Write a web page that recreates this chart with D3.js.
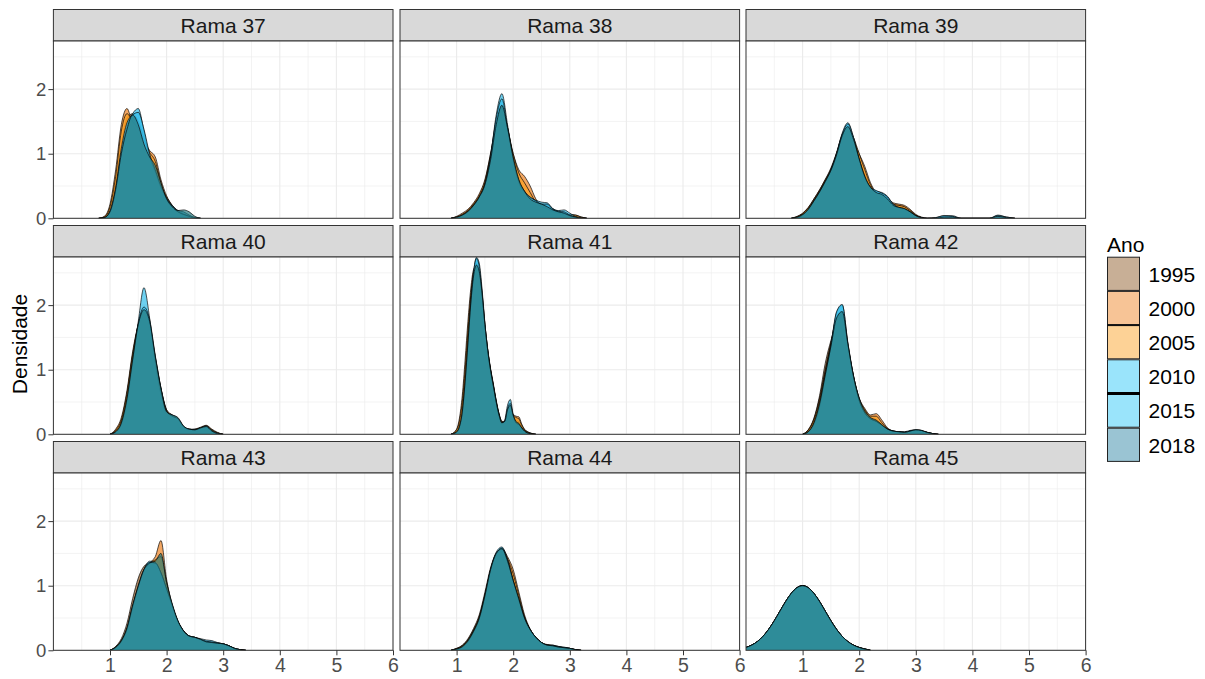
<!DOCTYPE html>
<html><head><meta charset="utf-8">
<script src="https://cdn.jsdelivr.net/npm/d3@7"></script>
<style>body{margin:0;background:#fff} text{font-family:"Liberation Sans",Arial,sans-serif}</style>
</head><body><svg id="c" width="1205" height="679"></svg>
<script>
// ---------- data ----------
const years = ["1995","2000","2005","2010","2015","2018"];
const panelNames = ["Rama 37","Rama 38","Rama 39","Rama 40","Rama 41","Rama 42","Rama 43","Rama 44","Rama 45"];
const xTicks = [1,2,3,4,5,6];
const yTicks = [0,1,2];
const xMinor = [0.5,1.5,2.5,3.5,4.5,5.5];
const yMinor = [0.5,1.5,2.5];

// density grids (x values) and densities per year (1995..2018)
const grid37 = [0.8,0.9,1.0,1.1,1.2,1.3,1.4,1.5,1.6,1.7,1.8,1.9,2.0,2.1,2.2,2.3,2.4,2.5,2.6];
const rama37 = [
  [0,0.02,0.15,0.55,1.15,1.55,1.62,1.5,1.25,0.95,0.7,0.5,0.33,0.2,0.12,0.07,0.04,0.01,0],
  [0,0.03,0.22,0.75,1.45,1.70,1.45,1.3,1.2,1.05,0.95,0.6,0.35,0.2,0.1,0.06,0.03,0.01,0],
  [0,0.02,0.18,0.65,1.35,1.62,1.5,1.38,1.2,1.02,0.88,0.55,0.3,0.17,0.1,0.05,0.02,0,0],
  [0,0.01,0.1,0.42,1.0,1.42,1.62,1.70,1.35,0.95,0.72,0.47,0.3,0.2,0.12,0.1,0.05,0.01,0],
  [0,0.01,0.12,0.48,1.08,1.48,1.6,1.64,1.38,1.0,0.75,0.5,0.32,0.18,0.1,0.06,0.03,0,0],
  [0,0.01,0.1,0.45,1.0,1.38,1.6,1.45,1.15,0.95,0.82,0.55,0.3,0.18,0.12,0.13,0.1,0.03,0]
];
const grid38 = [0.9,1.0,1.1,1.2,1.3,1.4,1.5,1.6,1.7,1.8,1.9,2.0,2.1,2.2,2.3,2.4,2.5,2.6,2.7,2.8,2.9,3.0,3.1,3.2,3.3];
const rama38 = [
  [0,0.02,0.06,0.12,0.22,0.36,0.58,1.0,1.5,1.7,1.4,0.95,0.6,0.42,0.33,0.27,0.22,0.2,0.15,0.1,0.08,0.05,0.03,0.01,0],
  [0,0.03,0.08,0.14,0.24,0.38,0.6,1.0,1.45,1.7,1.35,1.0,0.75,0.65,0.5,0.3,0.2,0.15,0.12,0.08,0.06,0.05,0.05,0.02,0],
  [0,0.02,0.06,0.12,0.22,0.34,0.55,0.95,1.45,1.72,1.4,1.0,0.7,0.55,0.4,0.25,0.18,0.15,0.1,0.08,0.06,0.06,0.05,0.02,0],
  [0,0.01,0.04,0.1,0.2,0.32,0.52,0.95,1.6,1.93,1.45,0.9,0.55,0.4,0.32,0.28,0.25,0.24,0.15,0.12,0.13,0.08,0.03,0.01,0],
  [0,0.01,0.05,0.1,0.2,0.33,0.53,0.95,1.55,1.85,1.4,0.92,0.58,0.42,0.33,0.27,0.22,0.22,0.14,0.11,0.1,0.05,0.02,0,0],
  [0,0.02,0.05,0.11,0.2,0.33,0.52,0.9,1.45,1.75,1.4,0.95,0.6,0.42,0.3,0.25,0.22,0.18,0.13,0.1,0.08,0.04,0.02,0,0]
];
const grid39 = [0.8,0.9,1.0,1.1,1.2,1.3,1.4,1.5,1.6,1.7,1.8,1.9,2.0,2.1,2.2,2.3,2.4,2.5,2.6,2.7,2.8,2.9,3.0,3.1,3.2,3.35,3.5,3.65,3.8,4.3,4.45,4.6,4.75];
const rama39 = [
  [0,0.02,0.07,0.16,0.3,0.44,0.6,0.78,1.02,1.3,1.4,1.2,0.92,0.68,0.5,0.4,0.35,0.3,0.22,0.2,0.18,0.12,0.05,0.01,0,0,0,0,0,0,0,0,0],
  [0,0.03,0.08,0.17,0.3,0.44,0.6,0.76,1.0,1.28,1.38,1.2,1.0,0.8,0.55,0.4,0.35,0.3,0.24,0.22,0.2,0.14,0.06,0.02,0,0,0,0,0,0,0,0,0],
  [0,0.02,0.07,0.16,0.28,0.42,0.58,0.74,0.98,1.25,1.4,1.25,1.0,0.75,0.52,0.4,0.36,0.3,0.22,0.2,0.18,0.12,0.05,0.01,0,0,0,0,0,0,0,0,0],
  [0,0.01,0.05,0.13,0.26,0.4,0.56,0.74,1.0,1.32,1.48,1.25,0.9,0.62,0.48,0.42,0.4,0.34,0.22,0.16,0.14,0.1,0.04,0.01,0,0.01,0.04,0.04,0,0,0.05,0.02,0],
  [0,0.01,0.05,0.14,0.27,0.41,0.57,0.75,1.0,1.3,1.46,1.25,0.92,0.64,0.48,0.43,0.39,0.33,0.22,0.17,0.15,0.1,0.04,0.01,0,0.01,0.04,0.03,0,0,0.04,0.02,0],
  [0,0.02,0.06,0.14,0.27,0.41,0.57,0.74,0.98,1.28,1.42,1.22,0.92,0.65,0.48,0.4,0.37,0.3,0.2,0.17,0.15,0.1,0.04,0.01,0,0,0.02,0.02,0,0,0.03,0.01,0]
];
const grid40 = [1.0,1.1,1.2,1.3,1.4,1.5,1.6,1.7,1.8,1.9,2.0,2.1,2.2,2.3,2.4,2.5,2.6,2.7,2.8,2.9,3.0];
const rama40 = [
  [0,0.06,0.22,0.62,1.22,1.68,1.9,1.7,1.2,0.72,0.38,0.28,0.24,0.12,0.08,0.08,0.1,0.12,0.06,0.02,0],
  [0,0.08,0.26,0.68,1.28,1.7,1.88,1.65,1.15,0.7,0.38,0.3,0.22,0.1,0.07,0.08,0.11,0.14,0.08,0.03,0],
  [0,0.06,0.22,0.64,1.24,1.7,1.92,1.7,1.18,0.7,0.36,0.28,0.24,0.11,0.07,0.07,0.1,0.13,0.07,0.02,0],
  [0,0.03,0.15,0.5,1.1,1.75,2.27,1.8,1.1,0.62,0.33,0.3,0.25,0.12,0.08,0.07,0.09,0.12,0.05,0.01,0],
  [0,0.04,0.17,0.55,1.15,1.72,1.97,1.78,1.22,0.72,0.36,0.28,0.24,0.12,0.08,0.07,0.1,0.13,0.06,0.02,0],
  [0,0.04,0.18,0.56,1.16,1.7,1.93,1.75,1.2,0.7,0.35,0.3,0.26,0.13,0.08,0.07,0.1,0.12,0.05,0.01,0]
];
const grid41 = [0.9,1.0,1.05,1.1,1.15,1.2,1.25,1.3,1.35,1.4,1.45,1.5,1.55,1.6,1.65,1.7,1.75,1.8,1.85,1.9,1.95,2.0,2.05,2.1,2.15,2.2,2.3,2.4];
const rama41 = [
  [0,0.06,0.18,0.45,0.95,1.55,2.1,2.45,2.6,2.5,2.15,1.7,1.32,1.02,0.78,0.52,0.32,0.2,0.2,0.3,0.35,0.28,0.22,0.2,0.12,0.07,0.02,0],
  [0,0.08,0.25,0.6,1.15,1.75,2.25,2.55,2.6,2.4,2.0,1.6,1.25,1.0,0.76,0.52,0.32,0.2,0.18,0.25,0.3,0.3,0.28,0.27,0.16,0.08,0.02,0],
  [0,0.07,0.2,0.5,1.0,1.6,2.15,2.5,2.65,2.5,2.1,1.65,1.3,1.0,0.75,0.5,0.3,0.18,0.18,0.3,0.35,0.3,0.26,0.24,0.14,0.07,0.02,0],
  [0,0.03,0.1,0.3,0.75,1.35,2.0,2.5,2.74,2.65,2.25,1.72,1.3,0.98,0.72,0.48,0.28,0.16,0.22,0.45,0.54,0.3,0.18,0.15,0.1,0.05,0.01,0],
  [0,0.03,0.12,0.34,0.8,1.4,2.05,2.52,2.72,2.6,2.2,1.7,1.3,0.98,0.74,0.5,0.3,0.18,0.2,0.4,0.48,0.28,0.18,0.15,0.1,0.05,0.01,0],
  [0,0.04,0.12,0.35,0.82,1.42,2.02,2.45,2.62,2.52,2.18,1.7,1.3,1.0,0.75,0.5,0.3,0.18,0.2,0.38,0.45,0.3,0.2,0.17,0.1,0.05,0.01,0]
];
const grid42 = [1.0,1.1,1.2,1.3,1.4,1.5,1.6,1.7,1.8,1.9,2.0,2.1,2.2,2.3,2.4,2.5,2.6,2.7,2.8,2.9,3.0,3.1,3.2,3.3,3.4];
const rama42 = [
  [0,0.07,0.25,0.6,1.1,1.45,1.7,1.75,1.35,0.9,0.55,0.35,0.25,0.22,0.15,0.08,0.05,0.04,0.03,0.05,0.06,0.05,0.03,0.01,0],
  [0,0.07,0.24,0.56,1.0,1.42,1.8,1.85,1.35,0.88,0.56,0.4,0.3,0.32,0.22,0.1,0.05,0.03,0.03,0.04,0.06,0.05,0.03,0.01,0],
  [0,0.06,0.22,0.52,0.97,1.4,1.82,1.9,1.38,0.9,0.55,0.38,0.28,0.28,0.18,0.09,0.05,0.04,0.03,0.05,0.06,0.05,0.03,0.01,0],
  [0,0.03,0.15,0.42,0.88,1.35,1.88,2.0,1.42,0.9,0.53,0.33,0.24,0.2,0.14,0.08,0.05,0.04,0.04,0.06,0.07,0.06,0.03,0.01,0],
  [0,0.04,0.17,0.46,0.92,1.38,1.9,2.01,1.4,0.88,0.52,0.33,0.24,0.2,0.14,0.08,0.05,0.04,0.03,0.05,0.07,0.06,0.03,0.01,0],
  [0,0.04,0.18,0.48,0.92,1.36,1.8,1.9,1.4,0.9,0.56,0.36,0.26,0.22,0.15,0.08,0.05,0.04,0.03,0.05,0.07,0.06,0.03,0.01,0]
];
const grid43 = [1.0,1.1,1.2,1.3,1.4,1.5,1.6,1.7,1.8,1.9,2.0,2.1,2.2,2.3,2.4,2.5,2.6,2.7,2.8,2.9,3.0,3.1,3.2,3.3,3.4];
const rama43 = [
  [0,0.06,0.18,0.42,0.8,1.12,1.3,1.35,1.3,1.15,0.92,0.68,0.45,0.3,0.22,0.2,0.17,0.13,0.12,0.11,0.1,0.07,0.03,0.01,0],
  [0,0.05,0.14,0.32,0.65,0.95,1.2,1.35,1.45,1.7,1.1,0.7,0.45,0.3,0.22,0.2,0.16,0.13,0.12,0.11,0.1,0.07,0.03,0.01,0],
  [0,0.05,0.15,0.34,0.68,0.98,1.22,1.35,1.4,1.45,1.05,0.7,0.44,0.3,0.22,0.2,0.16,0.13,0.12,0.11,0.1,0.07,0.03,0.01,0],
  [0,0.04,0.13,0.32,0.66,0.98,1.25,1.38,1.36,1.2,0.95,0.68,0.45,0.3,0.22,0.2,0.18,0.16,0.15,0.12,0.1,0.07,0.03,0.01,0],
  [0,0.04,0.14,0.33,0.68,1.0,1.25,1.36,1.35,1.2,0.95,0.7,0.45,0.3,0.22,0.2,0.17,0.14,0.13,0.11,0.1,0.07,0.03,0.01,0],
  [0,0.05,0.15,0.35,0.7,1.0,1.25,1.35,1.38,1.5,1.05,0.72,0.46,0.3,0.22,0.2,0.17,0.13,0.12,0.11,0.1,0.07,0.03,0.01,0]
];
const grid44 = [0.9,1.0,1.1,1.2,1.3,1.4,1.5,1.6,1.7,1.8,1.9,2.0,2.1,2.2,2.3,2.4,2.5,2.6,2.7,2.8,2.9,3.0,3.1,3.2];
const rama44 = [
  [0,0.03,0.08,0.18,0.34,0.55,0.9,1.28,1.5,1.55,1.38,1.1,0.8,0.5,0.32,0.2,0.12,0.08,0.07,0.05,0.04,0.03,0.01,0],
  [0,0.03,0.07,0.16,0.31,0.5,0.84,1.2,1.45,1.58,1.45,1.25,0.9,0.55,0.33,0.2,0.12,0.09,0.08,0.06,0.04,0.03,0.01,0],
  [0,0.02,0.07,0.16,0.31,0.52,0.86,1.24,1.48,1.56,1.42,1.18,0.85,0.52,0.32,0.2,0.12,0.08,0.07,0.05,0.04,0.03,0.01,0],
  [0,0.01,0.05,0.13,0.28,0.48,0.82,1.24,1.52,1.6,1.4,1.08,0.78,0.5,0.32,0.2,0.12,0.08,0.08,0.06,0.05,0.03,0.01,0],
  [0,0.02,0.05,0.14,0.29,0.49,0.84,1.25,1.5,1.58,1.4,1.08,0.78,0.5,0.32,0.2,0.12,0.08,0.07,0.05,0.04,0.03,0.01,0],
  [0,0.02,0.06,0.15,0.3,0.5,0.85,1.25,1.5,1.57,1.38,1.08,0.8,0.5,0.32,0.2,0.12,0.08,0.07,0.05,0.04,0.03,0.01,0]
];
const grid45 = [0.0,0.1,0.2,0.3,0.4,0.5,0.6,0.7,0.8,0.9,1.0,1.1,1.2,1.3,1.4,1.5,1.6,1.7,1.8,1.9,2.0,2.1,2.2];
const curve45 = [0.044,0.08,0.135,0.216,0.325,0.458,0.607,0.755,0.882,0.969,1.0,0.969,0.882,0.755,0.607,0.458,0.325,0.216,0.135,0.08,0.044,0.02,0];
const rama45 = [curve45,curve45,curve45,curve45,curve45,curve45]; // all years coincide

const grids = [grid37,grid38,grid39,grid40,grid41,grid42,grid43,grid44,grid45];
const densities = [rama37,rama38,rama39,rama40,rama41,rama42,rama43,rama44,rama45];

// ---------- styles ----------
const plotColors = ["#8b5621","#ee8221","#fba021","#31bcea","#31bcea","#27797f"];
const keyColors  = ["#c8af96","#f7c496","#fdd296","#9ae4fb","#9ae4fb","#9ac4d3"];
const plotAlpha = 0.7;

// ---------- layout ----------
const svg = d3.select("#c");
const colLeft = [53.4, 400, 746];
const rowTop = [9.5, 225.5, 441.5];
const panelW = 339.6, stripH = 31.5, panelH = 177.3;
const x = d3.scaleLinear().domain([0,6]).range([0,panelW]);
const y = d3.scaleLinear().domain([0,2.745]).range([panelH,0]);
const color = d3.scaleOrdinal().domain(years).range(plotColors);
const keyColor = d3.scaleOrdinal().domain(years).range(keyColors);

const area = d3.area().curve(d3.curveMonotoneX).x(d=>x(d[0])).y0(y(0)).y1(d=>y(d[1]));
const line = d3.line().curve(d3.curveMonotoneX).x(d=>x(d[0])).y(d=>y(d[1]));

panelNames.forEach((name,i)=>{
  const r = Math.floor(i/3), c = i%3;
  const g = svg.append("g").attr("transform",`translate(${colLeft[c]},${rowTop[r]})`);
  g.append("rect").attr("x",0).attr("y",0).attr("width",panelW).attr("height",stripH)
    .attr("fill","#d9d9d9").attr("stroke","#333").attr("stroke-width",1);
  g.append("text").attr("x",panelW/2).attr("y",stripH/2+7.6).attr("text-anchor","middle")
    .attr("font-size",21).attr("fill","#1a1a1a").text(name);
  const p = g.append("g").attr("transform",`translate(0,${stripH})`);
  p.append("rect").attr("width",panelW).attr("height",panelH).attr("fill","#fff");
  p.selectAll(".vmin").data(xMinor).join("line").attr("x1",d=>x(d)).attr("x2",d=>x(d))
    .attr("y1",0).attr("y2",panelH).attr("stroke","#ebebeb").attr("stroke-width",0.6);
  p.selectAll(".hmin").data(yMinor).join("line").attr("y1",d=>y(d)).attr("y2",d=>y(d))
    .attr("x1",0).attr("x2",panelW).attr("stroke","#ebebeb").attr("stroke-width",0.6);
  p.selectAll(".vmaj").data(xTicks).join("line").attr("x1",d=>x(d)).attr("x2",d=>x(d))
    .attr("y1",0).attr("y2",panelH).attr("stroke","#ebebeb").attr("stroke-width",1.1);
  p.selectAll(".hmaj").data(yTicks).join("line").attr("y1",d=>y(d)).attr("y2",d=>y(d))
    .attr("x1",0).attr("x2",panelW).attr("stroke","#ebebeb").attr("stroke-width",1.1);
  const cid = "clip"+i;
  p.append("clipPath").attr("id",cid).append("rect").attr("width",panelW).attr("height",panelH);
  const curves = p.append("g").attr("clip-path",`url(#${cid})`);
  const gx = grids[i];
  densities[i].forEach((vals,k)=>{
    const pts = gx.map((xv,j)=>[xv, vals[j]]);
    curves.append("path").attr("d",area(pts)).attr("fill",color(years[k])).attr("fill-opacity",plotAlpha);
    curves.append("path").attr("d",line(pts)).attr("fill","none").attr("stroke","#000")
      .attr("stroke-opacity",0.85).attr("stroke-width",0.8);
  });
  p.append("rect").attr("width",panelW).attr("height",panelH).attr("fill","none")
    .attr("stroke","#333").attr("stroke-width",1);
  if (c===0) {
    const ay = p.append("g").call(d3.axisLeft(y).tickValues(yTicks).tickSize(5).tickPadding(2).tickFormat(d3.format("d")));
    ay.select(".domain").remove();
    ay.selectAll("line").attr("stroke","#333");
    ay.selectAll("text").attr("font-size",18.5).attr("fill","#4d4d4d").attr("font-family","Liberation Sans, Arial, sans-serif");
  }
  if (r===2) {
    const ax = p.append("g").attr("transform",`translate(0,${panelH})`)
      .call(d3.axisBottom(x).tickValues(xTicks).tickSize(5).tickPadding(3).tickFormat(d3.format("d")));
    ax.select(".domain").remove();
    ax.selectAll("line").attr("stroke","#333");
    ax.selectAll("text").attr("font-size",19.5).attr("fill","#4d4d4d").attr("font-family","Liberation Sans, Arial, sans-serif");
  }
});

svg.append("text").attr("transform","translate(27,344) rotate(-90)").attr("text-anchor","middle")
  .attr("font-size",21).attr("fill","#000").text("Densidade");

// legend
const lg = svg.append("g").attr("transform","translate(1107,0)");
lg.append("text").attr("x",0).attr("y",251.5).attr("font-size",21).attr("fill","#000").text("Ano");
const keyH = 34.2, keyTop = 256.7, keyW = 33;
years.forEach((yr,k)=>{
  const ky = keyTop + k*keyH;
  lg.append("rect").attr("x",0.5).attr("y",ky+0.5).attr("width",keyW-1).attr("height",keyH-1)
    .attr("fill",keyColor(yr)).attr("stroke","#222").attr("stroke-width",1);
  lg.append("text").attr("x",41.5).attr("y",ky+keyH/2+7.8).attr("font-size",21).attr("fill","#000").text(yr);
});
lg.append("line").attr("x1",0).attr("x2",keyW).attr("y1",keyTop+2*keyH).attr("y2",keyTop+2*keyH)
  .attr("stroke","#111").attr("stroke-width",1.6);
lg.append("line").attr("x1",0).attr("x2",keyW).attr("y1",keyTop+4*keyH).attr("y2",keyTop+4*keyH)
  .attr("stroke","#000").attr("stroke-width",2.8);
</script></body></html>
